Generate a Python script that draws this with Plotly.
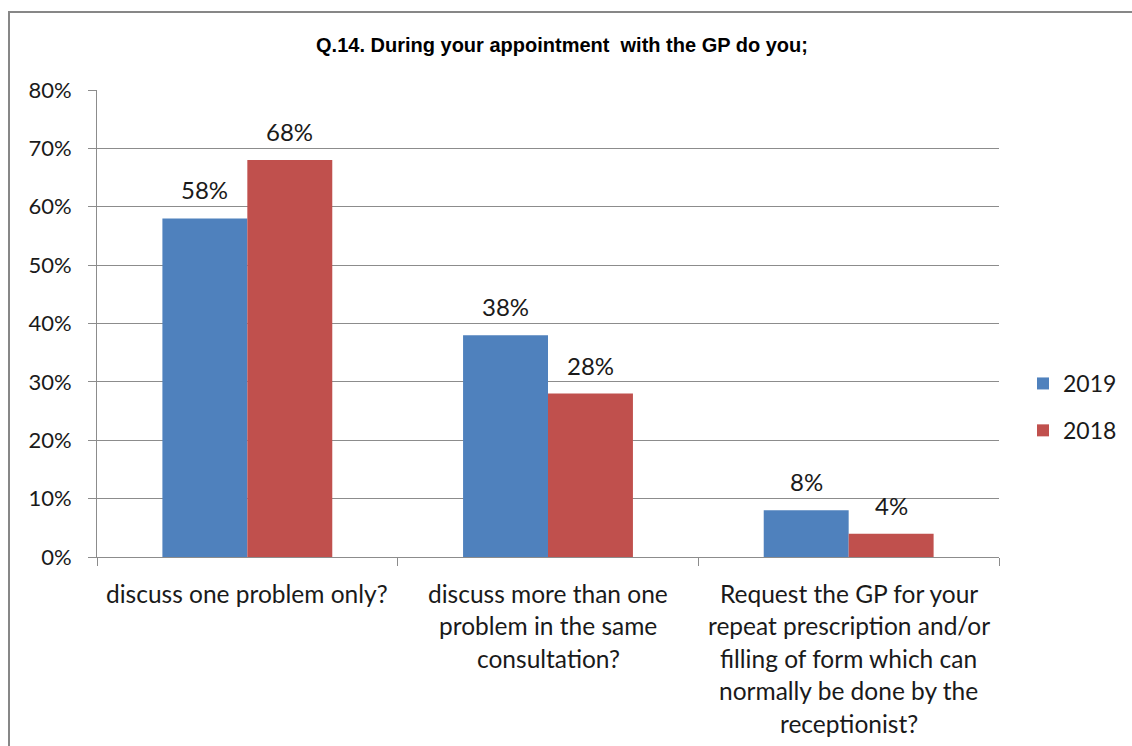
import plotly.graph_objects as go

categories = ["discuss one problem only?",
              "discuss more than one problem in the same consultation?",
              "Request the GP for your repeat prescription and/or filling of form which can normally be done by the receptionist?"]
category_lines = [
    ["discuss one problem only?"],
    ["discuss more than one", "problem in the same", "consultation?"],
    ["Request the GP for your", "repeat prescription and/or", "filling of form which can",
     "normally be done by the", "receptionist?"],
]
values_2019 = [58, 38, 8]
values_2018 = [68, 28, 4]
series_names = ["2019", "2018"]
title_text = "Q.14. During your appointment  with the GP do you;"

BLUE = "#4F81BD"
RED = "#C0504D"
GRID = "#8C8C8C"
TXT = "#1a1a1a"
FONT = "Lato"
BARGAP = 0.435

W, H = 1132, 746
L, R, T, B = 97, 133, 90, 189
pw, ph = W - L - R, H - T - B

fig = go.Figure()
for name, vals, col in [(series_names[0], values_2019, BLUE), (series_names[1], values_2018, RED)]:
    fig.add_trace(go.Bar(x=categories, y=vals, name=name, marker=dict(color=col, line=dict(width=0)),
                         legendgroup=name))

# data labels
half = (1 - BARGAP) / 4
for vals, off in [(values_2019, -half), (values_2018, half)]:
    for i, v in enumerate(vals):
        fig.add_annotation(x=i + off, y=v, xref="x", yref="y", text=f"{v}%", showarrow=False,
                           yanchor="bottom", yshift=12, font=dict(family=FONT, size=24, color=TXT))

# category labels
for i, lines in enumerate(category_lines):
    for k, line in enumerate(lines):
        fig.add_annotation(x=i, y=0, xref="x", yref="paper", text=line, showarrow=False,
                           yanchor="middle", yshift=-(36 + 32.5 * k),
                           font=dict(family=FONT, size=24.5, color=TXT))

# outer border
fig.add_shape(type="rect", xref="paper", yref="paper",
              x0=(9 - L) / pw, x1=(W + 20 - L) / pw,
              y0=(T + ph - (H + 20)) / ph, y1=(T + ph - 12) / ph,
              line=dict(color="#878787", width=2), fillcolor="rgba(0,0,0,0)", layer="below")

fig.update_layout(
    width=W, height=H,
    margin=dict(l=L, r=R, t=T, b=B, autoexpand=False),
    paper_bgcolor="white", plot_bgcolor="white",
    barmode="group", bargap=BARGAP, bargroupgap=0,
    title=dict(text=f"<b>{title_text}</b>", x=562 / W, xanchor="center", y=1 - 45 / H, yanchor="middle",
               font=dict(family="Liberation Sans, Arial", size=20, color="#000")),
    font=dict(family=FONT, size=22, color=TXT),
    legend=dict(x=(1023 - L) / pw, xanchor="left", y=(T + ph - 407) / ph, yanchor="middle",
                font=dict(family=FONT, size=23, color=TXT), tracegroupgap=14,
                bgcolor="rgba(0,0,0,0)", itemsizing="constant"),
    showlegend=True,
)
fig.update_xaxes(type="category", showticklabels=False, tickson="boundaries", ticks="outside",
                 ticklen=8, tickcolor=GRID, showline=True, linecolor=GRID, linewidth=1,
                 showgrid=False, zeroline=False, range=[-0.5, 2.5])
fig.update_yaxes(range=[0, 80], dtick=10, ticksuffix="%", showgrid=True, gridcolor=GRID, gridwidth=1,
                 ticks="outside", ticklen=8, tickcolor=GRID, showline=True, linecolor=GRID, linewidth=1,
                 zeroline=False, ticklabelstandoff=12,
                 tickfont=dict(family=FONT, size=22, color=TXT))

fig.write_html("out.html", config={"displayModeBar": False},
               post_script="document.body.style.margin='0';document.body.style.overflow='hidden';")
